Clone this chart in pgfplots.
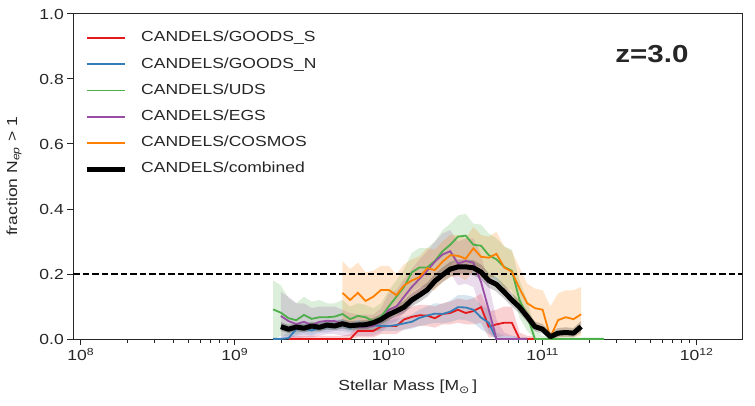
\documentclass[border=0pt]{standalone}
\usepackage{pgfplots}
\pgfplotsset{compat=1.18}
\usepackage{pgfplotstable}
\usepgfplotslibrary{fillbetween}
\usepackage{fontspec}
\setmainfont{Liberation Sans}[FakeStretch=1.2]
\newfontfamily\dejavu{DejaVu Sans}[FakeStretch=1.2]
\definecolor{cRed}{HTML}{E41A1C}
\definecolor{cBlue}{HTML}{377EB8}
\definecolor{cGreen}{HTML}{4DAF4A}
\definecolor{cPurple}{HTML}{984EA3}
\definecolor{cOrange}{HTML}{FF7F00}
\definecolor{txt}{HTML}{262626}

\pgfplotstableread{
L y lo hi
9.35 0 0 0.01
9.40 0 0 0.01
9.45 0 0 0.01
9.50 0 0 0.01
9.55 0 0 0.01
9.60 0 0 0.01
9.65 0 0 0.01
9.70 0 0 0.01
9.75 0 0 0.015
9.80 0.025 0.005 0.05
9.85 0.025 0.005 0.05
9.90 0.025 0.005 0.05
9.95 0.038 0.015 0.065
10.00 0.040 0.015 0.07
10.05 0.040 0.015 0.07
10.10 0.060 0.03 0.095
10.15 0.068 0.035 0.10
10.20 0.073 0.04 0.105
10.25 0.072 0.04 0.105
10.30 0.064 0.035 0.10
10.35 0.077 0.045 0.11
10.40 0.080 0.045 0.115
10.45 0.090 0.05 0.125
10.50 0.080 0.045 0.12
10.55 0.086 0.045 0.125
10.60 0.098 0.05 0.14
10.65 0.038 0.005 0.085
10.70 0.045 0.005 0.09
10.75 0.050 0.01 0.10
10.80 0.050 0.01 0.10
10.85 0.000 0 0.02
10.90 0 0 0.01
10.95 0 0 0.01
}\tRed

\pgfplotstableread{
L y lo hi
9.25 0 0 0.005
9.30 0 0 0.005
9.35 0.003 0 0.02
9.40 0.030 0.01 0.05
9.45 0.033 0.015 0.05
9.50 0.026 0.01 0.045
9.55 0.036 0.02 0.055
9.60 0.036 0.02 0.055
9.65 0.041 0.025 0.06
9.70 0.043 0.025 0.06
9.75 0.035 0.02 0.05
9.80 0.040 0.025 0.055
9.85 0.040 0.025 0.055
9.90 0.042 0.025 0.06
9.95 0.040 0.025 0.058
10.00 0.040 0.025 0.058
10.05 0.043 0.025 0.062
10.10 0.048 0.028 0.068
10.15 0.053 0.032 0.075
10.20 0.065 0.04 0.09
10.25 0.072 0.045 0.10
10.30 0.078 0.05 0.11
10.35 0.077 0.048 0.108
10.40 0.084 0.052 0.118
10.45 0.098 0.06 0.135
10.50 0.097 0.058 0.135
10.55 0.090 0.05 0.13
10.60 0.066 0.03 0.105
10.65 0.050 0.015 0.09
10.70 0.000 0 0.02
10.75 0 0 0.01
10.80 0 0 0.01
10.85 0 0 0.005
10.90 0 0 0.005
}\tBlue

\pgfplotstableread{
L y lo hi
9.25 0.091 0.0 0.18
9.30 0.081 0.01 0.165
9.35 0.064 0.01 0.125
9.40 0.058 0.015 0.11
9.45 0.074 0.025 0.13
9.50 0.062 0.02 0.115
9.55 0.067 0.025 0.12
9.60 0.067 0.03 0.11
9.65 0.069 0.03 0.11
9.70 0.077 0.035 0.12
9.75 0.061 0.025 0.10
9.80 0.071 0.03 0.11
9.85 0.067 0.03 0.105
9.90 0.055 0.02 0.095
9.95 0.068 0.03 0.11
10.00 0.100 0.055 0.15
10.05 0.130 0.08 0.18
10.10 0.160 0.105 0.215
10.15 0.205 0.145 0.265
10.20 0.220 0.16 0.28
10.25 0.220 0.16 0.28
10.30 0.240 0.18 0.30
10.35 0.270 0.205 0.335
10.40 0.290 0.225 0.355
10.45 0.315 0.25 0.38
10.50 0.318 0.25 0.385
10.55 0.290 0.225 0.355
10.60 0.287 0.222 0.352
10.65 0.258 0.195 0.325
10.70 0.245 0.18 0.31
10.75 0.222 0.16 0.285
10.80 0.210 0.15 0.275
10.85 0.120 0.065 0.18
10.90 0.070 0.025 0.12
10.95 0.000 0 0.03
11.00 0 0 0.01
11.05 0 0 0.005
11.10 0 0 0.005
11.15 0 0 0.005
11.20 0 0 0.005
11.25 0 0 0.005
11.30 0 0 0.005
11.35 0 0 0.005
11.40 0 0 0.005
}\tGreen

\pgfplotstableread{
L y lo hi
9.30 0.071 0.0 0.145
9.35 0.055 0.0 0.13
9.40 0.046 0.0 0.11
9.45 0.053 0.005 0.11
9.50 0.043 0.005 0.095
9.55 0.053 0.01 0.10
9.60 0.056 0.015 0.10
9.65 0.055 0.015 0.10
9.70 0.048 0.01 0.09
9.75 0.042 0.01 0.08
9.80 0.038 0.01 0.075
9.85 0.038 0.01 0.075
9.90 0.040 0.01 0.075
9.95 0.055 0.02 0.095
10.00 0.090 0.045 0.14
10.05 0.100 0.055 0.15
10.10 0.130 0.08 0.185
10.15 0.160 0.105 0.215
10.20 0.185 0.125 0.245
10.25 0.210 0.15 0.27
10.30 0.238 0.175 0.30
10.35 0.260 0.195 0.325
10.40 0.270 0.205 0.335
10.45 0.232 0.165 0.30
10.50 0.240 0.17 0.31
10.55 0.235 0.16 0.31
10.60 0.175 0.09 0.26
10.65 0.090 0.02 0.17
10.70 0.000 0 0.06
10.75 0 0 0.02
10.80 0 0 0.01
10.85 0 0 0.005
10.90 0 0 0.005
}\tPurple

\pgfplotstableread{
L y lo hi
9.70 0.142 0.06 0.24
9.75 0.120 0.045 0.215
9.80 0.142 0.06 0.235
9.85 0.117 0.045 0.205
9.90 0.130 0.055 0.21
9.95 0.151 0.075 0.225
10.00 0.151 0.08 0.225
10.05 0.135 0.07 0.20
10.10 0.165 0.10 0.23
10.15 0.180 0.115 0.245
10.20 0.190 0.13 0.255
10.25 0.218 0.155 0.28
10.30 0.212 0.15 0.275
10.35 0.238 0.175 0.30
10.40 0.258 0.19 0.32
10.45 0.256 0.195 0.32
10.50 0.247 0.18 0.31
10.55 0.279 0.21 0.345
10.60 0.253 0.19 0.32
10.65 0.250 0.185 0.315
10.70 0.262 0.195 0.33
10.75 0.220 0.155 0.285
10.80 0.207 0.14 0.27
10.85 0.155 0.095 0.22
10.90 0.110 0.055 0.17
10.95 0.095 0.04 0.155
11.00 0.090 0.035 0.15
11.05 0.005 0 0.10
11.10 0.058 0.005 0.14
11.15 0.067 0.005 0.15
11.20 0.061 0.005 0.15
11.25 0.076 0.01 0.16
}\tOrange

\pgfplotstableread{
L y lo hi
9.30 0.038 0.025 0.052
9.35 0.030 0.018 0.044
9.40 0.037 0.024 0.05
9.45 0.033 0.02 0.046
9.50 0.040 0.026 0.053
9.55 0.036 0.023 0.05
9.60 0.043 0.029 0.056
9.65 0.040 0.027 0.054
9.70 0.047 0.032 0.061
9.75 0.041 0.028 0.055
9.80 0.043 0.03 0.057
9.85 0.044 0.03 0.058
9.90 0.050 0.036 0.065
9.95 0.060 0.045 0.076
10.00 0.075 0.059 0.092
10.05 0.086 0.069 0.104
10.10 0.098 0.08 0.117
10.15 0.120 0.10 0.14
10.20 0.135 0.114 0.156
10.25 0.151 0.13 0.173
10.30 0.178 0.156 0.20
10.35 0.197 0.175 0.22
10.40 0.215 0.192 0.238
10.45 0.222 0.199 0.245
10.50 0.222 0.199 0.245
10.55 0.219 0.196 0.242
10.60 0.206 0.183 0.229
10.65 0.180 0.158 0.203
10.70 0.168 0.146 0.19
10.75 0.145 0.124 0.167
10.80 0.120 0.10 0.141
10.85 0.098 0.079 0.118
10.90 0.069 0.052 0.087
10.95 0.038 0.024 0.054
11.00 0.030 0.016 0.046
11.05 0.007 0 0.02
11.10 0.018 0.005 0.034
11.15 0.020 0.006 0.036
11.20 0.018 0.005 0.034
11.25 0.038 0.02 0.056
}\tBlack

\newcommand{\band}[3]{%
  \addplot[draw=none, name path=U#3, forget plot] table[x expr=10^\thisrow{L}, y=hi]{#1};
  \addplot[draw=none, name path=L#3, forget plot] table[x expr=10^\thisrow{L}, y=lo]{#1};
  \addplot[fill=#2, fill opacity=0.2, draw=none, forget plot] fill between[of=U#3 and L#3];
}

\begin{document}
\begin{tikzpicture}
\begin{axis}[
  scale only axis, width=669pt, height=325pt,
  xmode=log, xmin=8.95e7, xmax=1.98e12, ymin=0, ymax=1,
  ytick={0,0.2,0.4,0.6,0.8,1.0},
  yticklabels={0.0,0.2,0.4,0.6,0.8,1.0},
  xtick={1e8,1e9,1e10,1e11,1e12},
  xticklabels={10\textsuperscript{8},10\textsuperscript{9},10\textsuperscript{10},10\textsuperscript{11},10\textsuperscript{12}},
  tick pos=left, tick align=outside,
  major tick length=6pt, minor tick length=3.5pt,
  every tick/.style={line width=1pt, color=txt},
  axis line style={line width=1pt, color=txt},
  ticklabel style={font=\fontsize{14.6}{17}\selectfont, text=txt},
  xlabel={Stellar Mass [M\textsubscript{\dejavu ⊙}\,]},
  ylabel={fraction N\textsubscript{\textit{ep}} > 1},
  every axis x label/.style={at={(axis description cs:0.5,-0.148)}, anchor=center, font=\fontsize{14.6}{17}\selectfont, text=txt},
  every axis y label/.style={at={(axis description cs:-0.0886,0.5)}, anchor=center, rotate=90, font=\fontsize{14.6}{17}\selectfont, text=txt},
  legend style={at={(axis description cs:0.016,0.947)}, anchor=north west,
    draw=none, fill=none, inner sep=0pt, font=\fontsize{14.6}{17}\selectfont, text=txt,
    row sep=12.7pt, nodes={inner sep=0pt, text height=10.5pt, text depth=3pt},
    /tikz/every odd column/.append style={column sep=14pt}},
  legend cell align=left,
  legend image code/.code={\draw[#1] (0pt,0pt) -- (38pt,0pt);},
]
\band{\tRed}{cRed}{r}
\band{\tBlue}{cBlue}{b}
\band{\tGreen}{cGreen}{g}
\band{\tPurple}{cPurple}{p}
\band{\tOrange}{cOrange}{o}
\band{\tBlack}{black}{k}

\addplot[black, line width=1.5pt, dash pattern=on 6.6pt off 2.9pt, forget plot] coordinates {(8.95e7,0.2) (1.98e12,0.2)};

\addplot[cRed, line width=1.8pt] table[x expr=10^\thisrow{L}, y=y]{\tRed};
\addlegendentry{CANDELS/GOODS\_S}
\addplot[cBlue, line width=1.8pt] table[x expr=10^\thisrow{L}, y=y]{\tBlue};
\addlegendentry{CANDELS/GOODS\_N}
\addplot[cGreen, line width=1.8pt] table[x expr=10^\thisrow{L}, y=y]{\tGreen};
\addlegendentry{CANDELS/UDS}
\addplot[cPurple, line width=1.8pt] table[x expr=10^\thisrow{L}, y=y]{\tPurple};
\addlegendentry{CANDELS/EGS}
\addplot[cOrange, line width=1.8pt] table[x expr=10^\thisrow{L}, y=y]{\tOrange};
\addlegendentry{CANDELS/COSMOS}
\addplot[black, line width=5pt, line join=round] table[x expr=10^\thisrow{L}, y=y]{\tBlack};
\addlegendentry{CANDELS/combined}

\node[font=\bfseries\fontsize{24.6}{28}\selectfont, text=txt, anchor=center, inner sep=0pt] at (axis description cs:0.865,0.878) {z=3.0};
\end{axis}
\pgfresetboundingbox
\path[use as bounding box] (current axis.south west) ++(-73.3pt,-66pt) rectangle ++(755pt,405pt);
\end{tikzpicture}
\end{document}
